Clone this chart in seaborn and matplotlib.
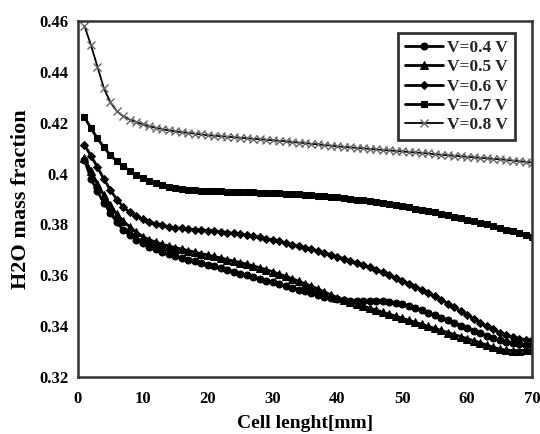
import numpy as np
import pandas as pd
import matplotlib
matplotlib.use("Agg")
import matplotlib.pyplot as plt
import seaborn as sns

cell_length = list(range(1, 71))

v04 = [0.4053, 0.3980, 0.3930, 0.3885, 0.3845, 0.3808, 0.3778, 0.3757, 0.3740, 0.3726,
       0.3713, 0.3702, 0.3692, 0.3683, 0.3675, 0.3668, 0.3661, 0.3655, 0.3648, 0.3642,
       0.3635, 0.3628, 0.3621, 0.3614, 0.3607, 0.3600, 0.3593, 0.3586, 0.3579, 0.3572,
       0.3565, 0.3558, 0.3551, 0.3544, 0.3537, 0.3530, 0.3523, 0.3516, 0.3510, 0.3505,
       0.3501, 0.3498, 0.3497, 0.3497, 0.3498, 0.3498, 0.3497, 0.3495, 0.3491, 0.3486,
       0.3479, 0.3471, 0.3462, 0.3453, 0.3443, 0.3433, 0.3423, 0.3413, 0.3402, 0.3392,
       0.3382, 0.3372, 0.3362, 0.3353, 0.3345, 0.3338, 0.3332, 0.3328, 0.3326, 0.3325]

v05 = [0.4060, 0.4010, 0.3960, 0.3915, 0.3875, 0.3840, 0.3812, 0.3790, 0.3770, 0.3752,
       0.3740, 0.3730, 0.3722, 0.3715, 0.3709, 0.3703, 0.3697, 0.3691, 0.3685, 0.3680,
       0.3674, 0.3668, 0.3662, 0.3656, 0.3650, 0.3644, 0.3637, 0.3630, 0.3622, 0.3614,
       0.3605, 0.3596, 0.3587, 0.3577, 0.3567, 0.3557, 0.3546, 0.3535, 0.3523, 0.3512,
       0.3503, 0.3495, 0.3487, 0.3479, 0.3471, 0.3463, 0.3455, 0.3447, 0.3439, 0.3431,
       0.3423, 0.3415, 0.3407, 0.3399, 0.3391, 0.3383, 0.3375, 0.3367, 0.3359, 0.3351,
       0.3343, 0.3335, 0.3326, 0.3317, 0.3310, 0.3306, 0.3304, 0.3304, 0.3305, 0.3306]

v06 = [0.4112, 0.4070, 0.4025, 0.3978, 0.3935, 0.3898, 0.3868, 0.3847, 0.3832, 0.3820,
       0.3810, 0.3802, 0.3796, 0.3791, 0.3787, 0.3784, 0.3782, 0.3780, 0.3778, 0.3776,
       0.3774, 0.3771, 0.3768, 0.3765, 0.3762, 0.3758, 0.3754, 0.3749, 0.3744, 0.3739,
       0.3733, 0.3727, 0.3721, 0.3715, 0.3709, 0.3702, 0.3695, 0.3688, 0.3681, 0.3673,
       0.3665, 0.3657, 0.3649, 0.3640, 0.3631, 0.3621, 0.3611, 0.3601, 0.3590, 0.3579,
       0.3567, 0.3555, 0.3543, 0.3530, 0.3517, 0.3503, 0.3489, 0.3474, 0.3459, 0.3444,
       0.3429, 0.3414, 0.3400, 0.3387, 0.3375, 0.3365, 0.3357, 0.3351, 0.3347, 0.3345]

v07 = [0.4222, 0.4178, 0.4138, 0.4103, 0.4072, 0.4048, 0.4028, 0.4010, 0.3995, 0.3982,
       0.3971, 0.3962, 0.3955, 0.3949, 0.3944, 0.3940, 0.3937, 0.3935, 0.3933, 0.3932,
       0.3931, 0.3930, 0.3929, 0.3929, 0.3928, 0.3927, 0.3926, 0.3925, 0.3924, 0.3923,
       0.3922, 0.3920, 0.3919, 0.3918, 0.3916, 0.3915, 0.3913, 0.3911, 0.3909, 0.3907,
       0.3904, 0.3901, 0.3898, 0.3895, 0.3891, 0.3887, 0.3884, 0.3880, 0.3876, 0.3871,
       0.3867, 0.3862, 0.3857, 0.3852, 0.3847, 0.3842, 0.3836, 0.3831, 0.3825, 0.3819,
       0.3813, 0.3807, 0.3800, 0.3794, 0.3787, 0.3780, 0.3773, 0.3766, 0.3759, 0.3752]

v08 = [0.4580, 0.4505, 0.4420, 0.4335, 0.4280, 0.4245, 0.4225, 0.4212, 0.4203, 0.4193,
       0.4186, 0.4180, 0.4175, 0.4170, 0.4166, 0.4163, 0.4160, 0.4157, 0.4154, 0.4151,
       0.4149, 0.4147, 0.4145, 0.4143, 0.4141, 0.4139, 0.4137, 0.4135, 0.4133, 0.4131,
       0.4129, 0.4127, 0.4124, 0.4122, 0.4120, 0.4117, 0.4115, 0.4112, 0.4110, 0.4107,
       0.4105, 0.4103, 0.4101, 0.4099, 0.4097, 0.4095, 0.4093, 0.4091, 0.4089, 0.4087,
       0.4085, 0.4083, 0.4081, 0.4079, 0.4076, 0.4074, 0.4072, 0.4070, 0.4068, 0.4066,
       0.4064, 0.4062, 0.4060, 0.4058, 0.4056, 0.4054, 0.4051, 0.4049, 0.4046, 0.4043]

series_labels = ["V=0.4 V", "V=0.5 V", "V=0.6 V", "V=0.7 V", "V=0.8 V"]
x_ticks = [0, 10, 20, 30, 40, 50, 60, 70]
y_ticks = [0.32, 0.34, 0.36, 0.38, 0.40, 0.42, 0.44, 0.46]
y_tick_labels = ["0.32", "0.34", "0.36", "0.38", "0.4", "0.42", "0.44", "0.46"]

sns.set_style("white")
plt.rcParams["font.family"] = ["Liberation Serif", "DejaVu Serif"]
plt.rcParams["font.weight"] = "bold"

fig = plt.figure(figsize=(5.4, 4.34), dpi=100)
ax = fig.add_axes([78/540, 1 - 377/434, (532-78)/540, (377-21)/434])

styles = [
    dict(marker="o", markersize=5, color="black", linewidth=2.0, markeredgecolor="black"),
    dict(marker="^", markersize=5.5, color="black", linewidth=2.0, markeredgecolor="black"),
    dict(marker="D", markersize=4.2, color="black", linewidth=2.0, markeredgecolor="black"),
    dict(marker="s", markersize=5, color="black", linewidth=2.0, markeredgecolor="black"),
    dict(marker="x", markersize=6, color="black", linewidth=1.3, markeredgecolor="#666666",
         markeredgewidth=1.0),
]

for vals, lab, st in zip([v04, v05, v06, v07, v08], series_labels, styles):
    df = pd.DataFrame({"x": cell_length, "y": vals})
    sns.lineplot(data=df, x="x", y="y", ax=ax, label=lab, **st)

ax.set_xlim(0, 70)
ax.set_ylim(0.32, 0.46)
ax.set_xticks(x_ticks)
ax.set_xticklabels([str(t) for t in x_ticks])
ax.set_yticks(y_ticks)
ax.set_yticklabels(y_tick_labels)
ax.tick_params(axis="both", length=0, labelsize=12, labelcolor="black")
ax.tick_params(axis="x", pad=10)
ax.tick_params(axis="y", pad=7)
for lbl in ax.get_xticklabels() + ax.get_yticklabels():
    lbl.set_fontweight("bold")

ax.set_xlabel("Cell lenght[mm]", fontsize=14, fontweight="bold", labelpad=6, color="black")
ax.set_ylabel("H2O mass fraction", fontsize=16, fontweight="bold", labelpad=6, color="black")

for sp in ax.spines.values():
    sp.set_visible(True)
    sp.set_color("#333333")
    sp.set_linewidth(1.8)

leg = ax.legend(loc="upper right", bbox_to_anchor=(0.962, 0.966), frameon=True,
                fancybox=False, edgecolor="black", fontsize=12.5, handlelength=2.2,
                handletextpad=0.2, labelspacing=0.18, borderpad=0.4, borderaxespad=0)
leg.get_frame().set_linewidth(2.0)
for t in leg.get_texts():
    t.set_fontweight("bold")

fig.savefig("out.png", dpi=100)
